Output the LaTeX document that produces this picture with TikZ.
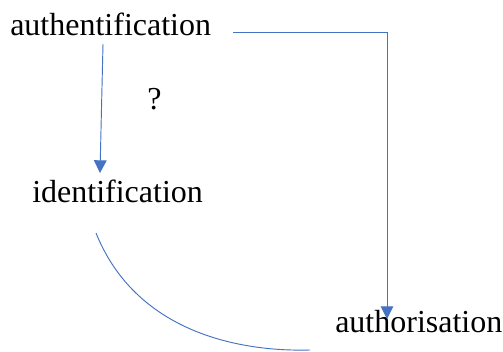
\documentclass[tikz,border=0pt]{standalone}
\usepackage{fontspec}
\setmainfont{Liberation Serif}
\usetikzlibrary{positioning,arrows.meta}
\definecolor{linkblue}{RGB}{68,114,196}

\begin{document}
\begin{tikzpicture}[x=0.75pt, y=-0.75pt,
		term/.style={inner sep=0pt, anchor=base west, text=black, font=\fontsize{24}{28}\selectfont},
		link/.style={draw=linkblue, line width=0.7pt},
		arrow/.style={link, -{Triangle[length=9.5pt, width=9.5pt]}}
]
\useasboundingbox (0,0) rectangle (503,352);

\node [term] (Authent) at (10,36) {authentification};
\node [term] (Ident) at (32,203) {identification};
\node [term] (Author) at (335,333) {authorisation};
\node [term] (Query) at (147,110) {?};

\coordinate (AuthentFoot) at (103,44);
\coordinate (IdentHead) at (100,173);
\coordinate (AuthentTail) at (233,32);
\coordinate (Corner) at (387,32);
\coordinate (AuthorHead) at (387,319);
\coordinate (IdentFoot) at (96,233);
\coordinate (AuthorFoot) at (310,350);

\draw [arrow] (AuthentFoot) -- (IdentHead);
\draw [arrow] (AuthentTail) -- (Corner) -- (AuthorHead);
\draw [link] (IdentFoot) .. controls (135,330) and (235,352) .. (AuthorFoot);

\end{tikzpicture}
\end{document}
